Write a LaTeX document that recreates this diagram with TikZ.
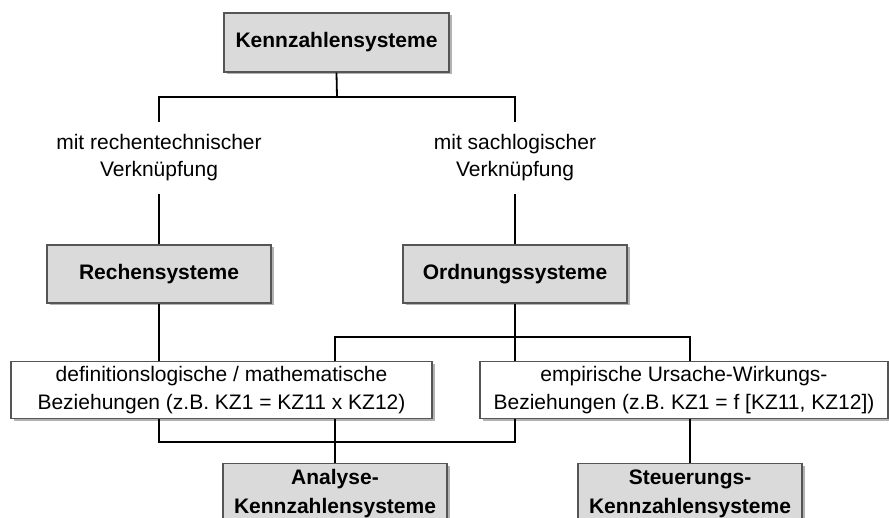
\documentclass[tikz,border=0pt]{standalone}
\usepackage{fontspec}
\setmainfont{Liberation Sans}
\usetikzlibrary{shadows}
\definecolor{boxgray}{RGB}{218,218,218}
\definecolor{bordergray}{RGB}{85,85,85}
\begin{document}
\begin{tikzpicture}[x=1pt,y=-1pt,
  graybox/.style={draw=bordergray, line width=1.3pt, fill=boxgray, minimum width=224pt, minimum height=58pt,
     inner sep=0pt, align=center, font=\fontsize{21}{29}\selectfont\bfseries,
     drop shadow={shadow xshift=2.5pt, shadow yshift=-2.5pt, opacity=0.3, fill=black}},
  whitebox/.style={draw=bordergray, line width=1.3pt, fill=white, minimum height=57pt,
     inner sep=0pt, align=center, font=\fontsize{21}{28.5}\selectfont,
     drop shadow={shadow xshift=2.5pt, shadow yshift=-2.5pt, opacity=0.3, fill=black}},
  lbl/.style={inner sep=0pt, minimum height=72pt, align=center, font=\fontsize{21}{27}\selectfont},
  conn/.style={line width=1.8pt, black}]
\clip (0,0) rectangle (889,518);
\fill[white] (0,0) rectangle (889,518);

\node[graybox, minimum width=225pt, minimum height=59pt] (K) at (336.5,42.5) {Kennzahlensysteme};
\node[lbl] (L1) at (159,158) {mit rechentechnischer\\Verknüpfung};
\node[lbl] (L2) at (515,158) {mit sachlogischer\\Verknüpfung};
\node[graybox] (R) at (159,274) {Rechensysteme};
\node[graybox] (O) at (515,274) {Ordnungssysteme};
\node[whitebox, minimum width=421pt] (D) at (221.5,390) {definitionslogische / mathematische\\Beziehungen (z.B. KZ1 = KZ11 x KZ12)};
\node[whitebox, minimum width=408pt] (E) at (684,390) {empirische Ursache-Wirkungs-\\Beziehungen (z.B. KZ1 = f [KZ11, KZ12])};
\node[graybox, anchor=north, minimum height=70pt, text depth=14pt, align=center] (A) at (335,463) {Analyse-\\Kennzahlensysteme};
\node[graybox, anchor=north, minimum height=70pt, text depth=14pt, align=center] (S) at (690,463) {Steuerungs-\\Kennzahlensysteme};

\coordinate (kj) at (337,97);
\draw[conn] (K.south) -- (kj);
\draw[conn] (L1.north) |- (kj) -| (L2.north);
\draw[conn] (L1.south) -- (R.north);
\draw[conn] (L2.south) -- (O.north);
\draw[conn] (R.south) -- (R.south |- D.north);
\draw[conn] (O.south) -- (O.south |- E.north);
\draw[conn] (A.north |- D.north) -- (A.north |- 0,337) -- (S.north |- 0,337) -- (S.north |- E.north);
\draw[conn] (R.south |- D.south) -- (R.south |- 0,442) -- (O.south |- 0,442) -- (O.south |- E.south);
\draw[conn] (A.north |- D.south) -- (A.north);
\draw[conn] (S.north |- E.south) -- (S.north);
\end{tikzpicture}
\end{document}
